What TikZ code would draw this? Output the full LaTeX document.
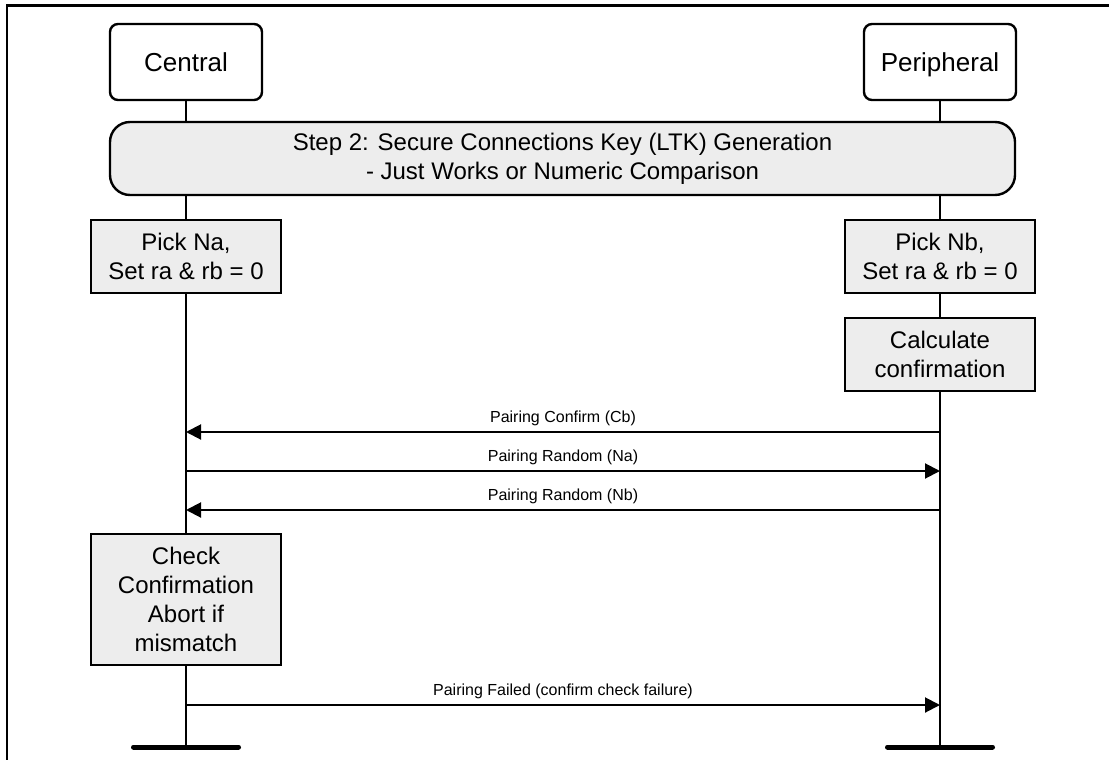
\documentclass[tikz,border=0pt]{standalone}
\usepackage{fontspec}
\setmainfont{Liberation Sans}
\usetikzlibrary{arrows.meta,backgrounds}
\definecolor{boxgray}{RGB}{237,237,237}
\begin{document}
\begin{tikzpicture}[x=1pt,y=-1pt,
  boxfont/.style={font=\fontsize{24}{29}\selectfont},
  actor/.style={draw, line width=2.4pt, rounded corners=8pt, fill=white,
    minimum width=152pt, minimum height=76pt, inner sep=0pt,
    text height=20pt, text depth=0pt,
    font=\fontsize{26}{30}\selectfont},
  banner/.style={draw, line width=2.4pt, rounded corners=20pt, fill=boxgray,
    minimum width=905pt, minimum height=73pt, inner sep=0pt, align=center, boxfont},
  action/.style={draw, line width=2.5pt, fill=boxgray, minimum width=190pt,
    inner sep=0pt, align=center, boxfont},
  life/.style={line width=2pt},
  msg/.style={line width=2pt, -{Triangle[length=15pt,width=15pt]}},
  msglabel/.style={font=\fontsize{16}{19}\selectfont, inner sep=0pt, midway, yshift=14pt},
  endbar/.style={line width=5pt, line cap=round},
  frame/.style={line width=2.5pt}
]
\useasboundingbox (0,0) rectangle (1109,760);

% frame (only top and left edges visible)
\coordinate (fbl) at (7,760);
\coordinate (ftl) at (7,5.5);
\coordinate (ftr) at (1109,5.5);
\draw[frame] (fbl) -- (ftl) -- (ftr);

% actors
\node[actor] (central) at (186,62) {Central};
\node[actor] (periph) at (940,62) {Peripheral};

% banner
\node[banner] (step) at (562.5,158.5) {Step 2: Secure Connections Key (LTK) Generation\\- Just Works or Numeric Comparison};

% action boxes
\node[action, minimum height=73pt] (pna) at (186,256.5) {Pick Na,\\Set ra \& rb = 0};
\node[action, minimum height=73pt] (pnb) at (940,256.5) {Pick Nb,\\Set ra \& rb = 0};
\node[action, minimum height=73pt] (calc) at (940,354.5) {Calculate\\confirmation};
\node[action, minimum height=131pt] (check) at (186,599.5) {Check\\Confirmation\\Abort if\\mismatch};

% lifeline ends
\coordinate (cend) at (186,747);
\coordinate (pend) at (940,747);

\begin{scope}[on background layer]
  \draw[life] (central.south) -- (cend);
  \draw[life] (periph.south) -- (pend);
\end{scope}

\draw[endbar] ([xshift=-52.5pt]cend) -- ([xshift=52.5pt]cend);
\draw[endbar] ([xshift=-52.5pt]pend) -- ([xshift=52.5pt]pend);

% message anchor points
\coordinate (c1) at (186,432);  \coordinate (p1) at (940,432);
\coordinate (c2) at (186,471);  \coordinate (p2) at (940,471);
\coordinate (c3) at (186,510);  \coordinate (p3) at (940,510);
\coordinate (c4) at (186,705);  \coordinate (p4) at (940,705);

\draw[msg] (p1) -- node[msglabel] {Pairing Confirm (Cb)} (c1);
\draw[msg] (c2) -- node[msglabel] {Pairing Random (Na)} (p2);
\draw[msg] (p3) -- node[msglabel] {Pairing Random (Nb)} (c3);
\draw[msg] (c4) -- node[msglabel] {Pairing Failed (confirm check failure)} (p4);
\end{tikzpicture}
\end{document}
